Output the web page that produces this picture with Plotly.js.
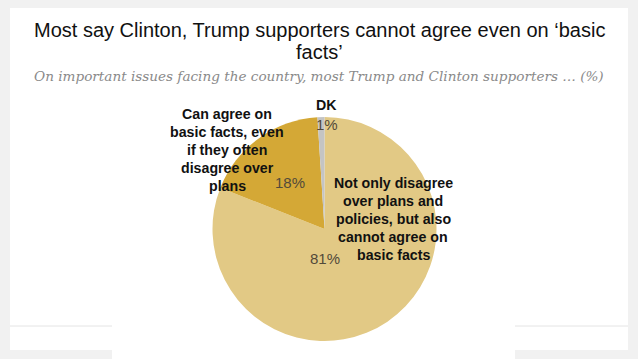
<!DOCTYPE html>
<html>
<head>
<meta charset="utf-8">
<script src="https://cdn.plot.ly/plotly-3.0.1.min.js"></script>
<style>html,body{margin:0;padding:0;background:#f1f1f1;}#chart{width:638px;height:359px;}</style>
</head>
<body>
<div id="chart"></div>
<script>
const categories = [
  "Not only disagree<br>over plans and<br>policies, but also<br>cannot agree on<br>basic facts",
  "Can agree on<br>basic facts, even<br>if they often<br>disagree over<br>plans",
  "DK"
];
const values = [81, 18, 1];
const sliceColors = ["#e2c985", "#d4a836", "#c4c4c4"];
const titleLines = ["Most say Clinton, Trump supporters cannot agree even on ‘basic", "facts’"];
const subtitle = "On important issues facing the country, most Trump and Clinton supporters … (%)";

const W = 638, H = 359;
const cx = 324.5, cy = 229, R = 112;
const px = x => x / W;
const py = y => 1 - y / H;

const trace = {
  type: "pie",
  values: values,
  labels: categories.map(c => c.replace(/<br>/g, " ")),
  sort: false,
  direction: "clockwise",
  rotation: 0,
  textinfo: "none",
  hoverinfo: "label+value",
  marker: { colors: sliceColors, line: { width: 0 } },
  domain: { x: [px(cx - R), px(cx + R)], y: [py(cy + R), py(cy - R)] },
  showlegend: false
};

// label positions (layout only)
const pctPos = [[325, 258], [290, 182], [327, 124]];
const catPos = [[393, 219], [227, 150], [326, 105]];
const lineGap = 17.8;
const annotations = [];
values.forEach((v, i) => {
  annotations.push({
    x: px(pctPos[i][0]), y: py(pctPos[i][1]), xref: "paper", yref: "paper",
    text: v + "%", showarrow: false,
    font: { family: "Liberation Sans, Arial, sans-serif", size: 15, color: "#524a3a" },
    xanchor: "center", yanchor: "middle"
  });
  const lines = categories[i].split("<br>");
  lines.forEach((ln, k) => {
    const yy = catPos[i][1] + (k - (lines.length - 1) / 2) * lineGap;
    annotations.push({
      x: px(catPos[i][0]), y: py(yy), xref: "paper", yref: "paper",
      text: "<b>" + ln + "</b>", showarrow: false,
      font: { family: "Liberation Sans, Arial, sans-serif", size: 14.2, color: "#111111" },
      xanchor: "center", yanchor: "middle", align: "center"
    });
  });
});
titleLines.forEach((t, k) => {
  annotations.push({
    x: 0.5, y: py(30 + k * 22), xref: "paper", yref: "paper",
    text: t, showarrow: false, xanchor: "center", yanchor: "middle",
    font: { family: "Liberation Sans, Arial, sans-serif", size: 20, color: "#111111" }
  });
});
annotations.push({
  x: 0.5, y: py(76), xref: "paper", yref: "paper",
  text: "<i>" + subtitle + "</i>",
  showarrow: false, xanchor: "center", yanchor: "middle",
  font: { family: "DejaVu Serif, Georgia, serif", size: 13.6, color: "#8a8a8a" }
});

const layout = {
  width: W, height: H,
  margin: { l: 0, r: 0, t: 0, b: 0 },
  paper_bgcolor: "#f1f1f1",
  plot_bgcolor: "#f1f1f1",
  annotations: annotations,
  shapes: [
    { type: "rect", xref: "paper", yref: "paper", x0: px(10), x1: px(628), y0: py(350), y1: py(8), fillcolor: "#ffffff", line: { width: 0 }, layer: "below" },
    { type: "rect", xref: "paper", yref: "paper", x0: px(112), x1: px(515), y0: py(359), y1: py(340), fillcolor: "#ffffff", line: { width: 0 }, layer: "below" },
    { type: "line", xref: "paper", yref: "paper", x0: px(10), x1: px(112), y0: py(326), y1: py(326), line: { color: "#e4e4e4", width: 1 }, layer: "below" },
    { type: "line", xref: "paper", yref: "paper", x0: px(515), x1: px(628), y0: py(326), y1: py(326), line: { color: "#e4e4e4", width: 1 }, layer: "below" }
  ]
};

Plotly.newPlot("chart", [trace], layout, { displayModeBar: false, staticPlot: true });
</script>
</body>
</html>
